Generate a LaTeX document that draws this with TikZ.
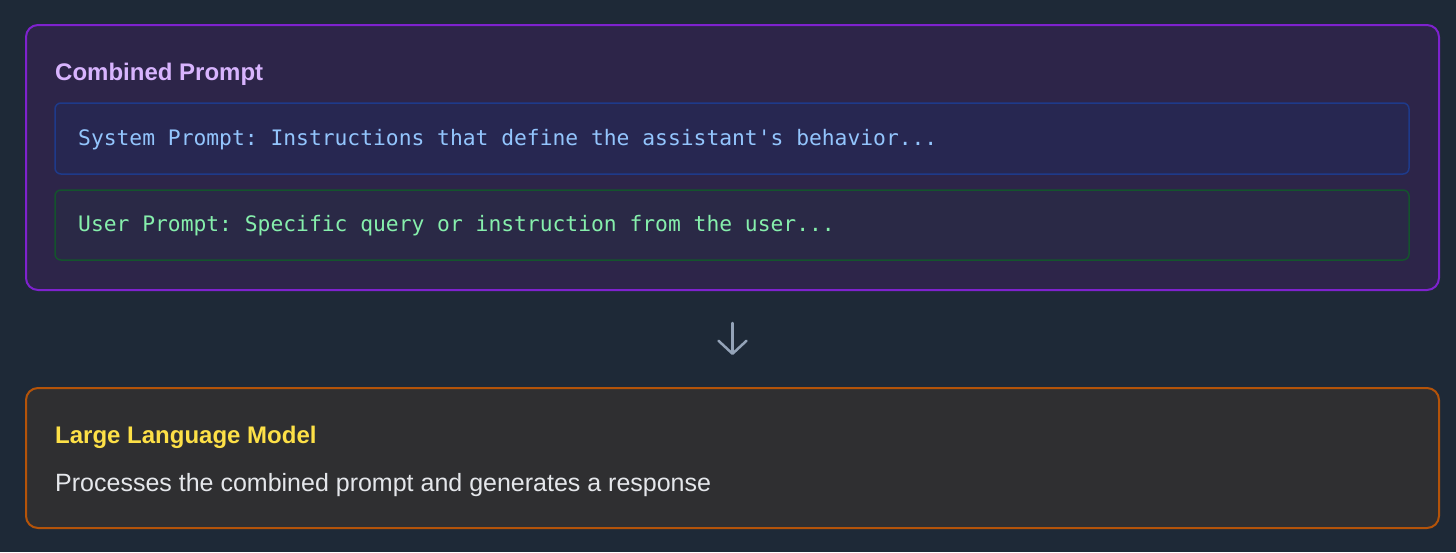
\documentclass[tikz,border=0pt]{standalone}
\usepackage{fontspec}
\setmainfont{Liberation Sans}
\setmonofont{DejaVu Sans Mono}
\usetikzlibrary{arrows.meta}

\definecolor{pagebg}{HTML}{1E2937}
\definecolor{combinedfill}{HTML}{2D2549}
\definecolor{combinedline}{HTML}{7E22CE}
\definecolor{systemfill}{HTML}{272751}
\definecolor{systemline}{HTML}{1E3A8A}
\definecolor{userfill}{HTML}{2A2946}
\definecolor{userline}{HTML}{14532D}
\definecolor{llmfill}{HTML}{2F2F31}
\definecolor{llmline}{HTML}{B45309}
\definecolor{combinedtitle}{HTML}{D8B4FE}
\definecolor{llmtitle}{HTML}{FDE047}
\definecolor{systemtext}{HTML}{93C5FD}
\definecolor{usertext}{HTML}{86EFAC}
\definecolor{bodytext}{HTML}{E5E7EB}
\definecolor{flowgray}{HTML}{94A3B8}

\tikzset{
  panel/.style={draw, line width=2pt, rounded corners=12pt, inner sep=0pt},
  promptbox/.style={draw, line width=1.5pt, rounded corners=6pt, inner sep=0pt,
                    minimum width=1354pt},
  title/.style={anchor=base west, inner sep=0pt, font=\fontsize{24}{28}\selectfont\bfseries},
  codeline/.style={anchor=base west, inner sep=0pt, font=\fontsize{21.3}{26}\selectfont\ttfamily},
  flow/.style={flowgray, line width=2.5pt, line cap=round,
               -{Straight Barb[length=13pt, width=28pt, line cap=round, line join=round]}}
}

\begin{document}
\begin{tikzpicture}[x=1pt, y=-1pt]
            \fill[pagebg] (0,0) rectangle (1456,552);

            % prompt panel
            \node[panel, draw=combinedline, fill=combinedfill,
                  minimum width=1413pt, minimum height=265pt] (combined) at (732.5,157.5) {};
            \node[title, text=combinedtitle] (combinedtitle) at (55,80) {Combined Prompt};

            \node[promptbox, draw=systemline, fill=systemfill,
                  minimum height=71pt] (system) at (732,138.5) {};
            \node[codeline, text=systemtext] (systemtext) at (78,145)
                {System Prompt: Instructions that define the assistant's behavior...};

            \node[promptbox, draw=userline, fill=userfill,
                  minimum height=70pt] (user) at (732,225) {};
            \node[codeline, text=usertext] (usertext) at (78,231)
                {User Prompt: Specific query or instruction from the user...};

            % model panel
            \node[panel, draw=llmline, fill=llmfill,
                  minimum width=1413pt, minimum height=140pt] (llm) at (732.5,458) {};
            \node[title, text=llmtitle] (llmtitle) at (55,443) {Large Language Model};
            \node[anchor=base west, inner sep=0pt, text=bodytext,
                  font=\fontsize{25}{30}\selectfont] (llmtext) at (55,491)
                {Processes the combined prompt and generates a response};

            \draw[flow, shorten <=32pt, shorten >=32pt] (combined.south) -- (llm.north);
        \end{tikzpicture}
\end{document}
